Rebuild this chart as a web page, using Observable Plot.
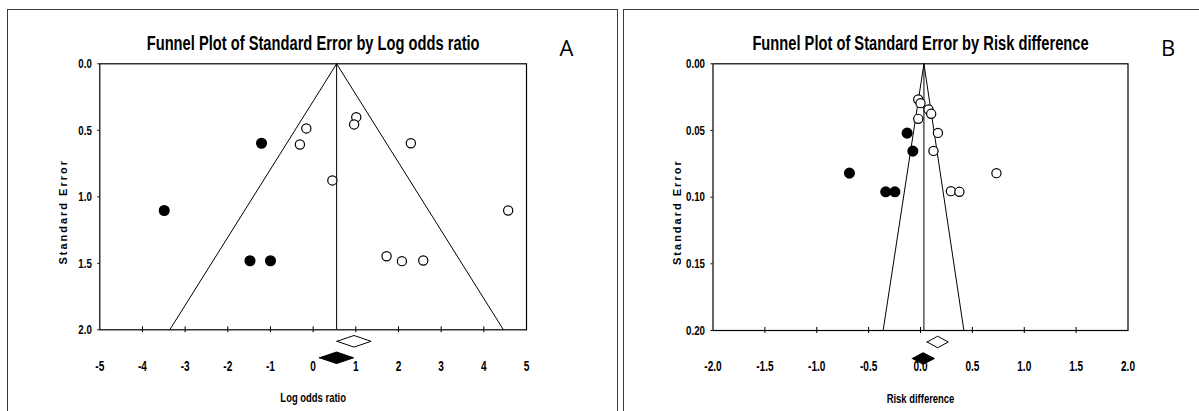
<!DOCTYPE html>
<html><head><meta charset="utf-8">
<script src="https://cdn.jsdelivr.net/npm/d3@7"></script>
<script src="https://cdn.jsdelivr.net/npm/@observablehq/plot@0.6"></script>
<style>
html,body{margin:0;padding:0;background:#fff;}
#wrap{position:relative;width:1199px;height:411px;overflow:hidden;background:#fff;}
.panel{position:absolute;top:0;}
.border{position:absolute;box-sizing:border-box;border:1.5px solid #3a3a3a;}
</style></head><body><div id="wrap">
<div class="border" style="left:6.5px;top:8.5px;width:611px;height:600px;"></div>
<div class="border" style="left:623px;top:8.5px;width:700px;height:600px;"></div>
</div>
<script>
// ---------- Panel A : Log odds ratio ----------
const titleA = "Funnel Plot of Standard Error by Log odds ratio";
const xLabelA = "Log odds ratio";
const tagA = "A";
const xTicksA = [-5, -4, -3, -2, -1, 0, 1, 2, 3, 4, 5];
const yTicksA = [0, 0.5, 1.0, 1.5, 2.0];
// observed studies (open circles)
const obsEffectA = [-0.16, -0.31, 1.01, 0.96, 2.29, 0.45, 4.57, 1.72, 2.08, 2.58];
const obsSEA     = [0.486, 0.607, 0.401, 0.456, 0.597, 0.877, 1.103, 1.447, 1.484, 1.479];
// imputed studies (filled circles)
const impEffectA = [-1.21, -3.49, -1.48, -1.00];
const impSEA     = [0.597, 1.103, 1.481, 1.481];
// funnel
const funnelCenterA = 0.55, funnelLeftA = -3.36, funnelRightA = 4.46, maxSEA = 2.0;
// summary diamonds: [observed (open), adjusted (filled)]
const diamondEstA = [0.97, 0.56];
const diamondLoA  = [0.57, 0.16];
const diamondHiA  = [1.37, 0.96];

// ---------- Panel B : Risk difference ----------
const titleB = "Funnel Plot of Standard Error by Risk difference";
const xLabelB = "Risk difference";
const tagB = "B";
const xTicksB = [-2.0, -1.5, -1.0, -0.5, 0.0, 0.5, 1.0, 1.5, 2.0];
const yTicksB = [0, 0.05, 0.10, 0.15, 0.20];
const obsEffectB = [-0.022, 0.0, 0.077, 0.103, -0.022, 0.168, 0.125, 0.732, 0.293, 0.375];
const obsSEB     = [0.0268, 0.0295, 0.0343, 0.0375, 0.0413, 0.0518, 0.0653, 0.082, 0.0955, 0.096];
const impEffectB = [-0.129, -0.074, -0.685, -0.335, -0.247];
const impSEB     = [0.052, 0.0655, 0.082, 0.096, 0.096];
const funnelCenterB = 0.033, funnelLeftB = -0.36, funnelRightB = 0.418, maxSEB = 0.20;
const diamondEstB = [0.17, 0.03];
const diamondLoB  = [0.069, -0.074];
const diamondHiB  = [0.272, 0.139];

const yLabel = "Standard Error";
const sans = '"Liberation Sans", Arial, sans-serif';

function panel(o) {
  const frameH = o.height - o.mt - o.mb;
  const perPx = o.yMax / frameH;
  const rowPx = [12, 28.5], halfPx = 5.8;
  const diamonds = o.dEst.map((e, i) => {
    const r = o.yMax + rowPx[i] * perPx, h = halfPx * perPx;
    return [
      {x: o.dLo[i], y1: r, y2: r},
      {x: e, y1: r - h, y2: r + h},
      {x: o.dHi[i], y1: r, y2: r}
    ];
  });
  const obs = o.obsX.map((x, i) => ({x, y: o.obsY[i]}));
  const imp = o.impX.map((x, i) => ({x, y: o.impY[i]}));
  const funnel = [
    {x: o.fLeft, y: o.yMax},
    {x: o.fCenter, y: 0},
    {x: o.fRight, y: o.yMax}
  ];
  const inner = o.xTicks.slice(1, -1);
  const svg = Plot.plot({
    width: o.width, height: o.height,
    marginLeft: o.ml, marginRight: o.mr, marginTop: o.mt, marginBottom: o.mb,
    style: {fontFamily: sans, fontSize: "14px", fontWeight: "bold", color: "#000", background: "transparent", overflow: "visible"},
    x: {domain: [o.xTicks[0], o.xTicks[o.xTicks.length - 1]]},
    y: {domain: [0, o.yMax], reverse: true},
    marks: [
      Plot.axisY({ticks: o.yTicks, tickFormat: o.yFmt, tickSize: 2, tickPadding: 6, label: null, fontSize: 13.5}),
      Plot.axisX({ticks: o.xTicks, tickFormat: o.xFmt, tickSize: 0, tickPadding: 31, label: null, fontSize: 14}),
      Plot.ruleX(inner, {x: d => d, y1: () => o.yMax, y2: () => o.yMax, insetTop: -3, insetBottom: -3, stroke: "#000"}),
      Plot.line(funnel, {x: "x", y: "y", stroke: "#000", strokeWidth: 1}),
      Plot.ruleX([o.fCenter], {x: d => d, y1: () => 0, y2: () => o.yMax, stroke: "#000"}),
      Plot.frame({stroke: "#000", strokeWidth: 1.2}),
      Plot.areaY(diamonds[0], {x: "x", y1: "y1", y2: "y2", fill: "white", stroke: "#000", strokeWidth: 1}),
      Plot.areaY(diamonds[1], {x: "x", y1: "y1", y2: "y2", fill: "#000", stroke: "#000", strokeWidth: 1}),
      Plot.dot(obs, {x: "x", y: "y", r: 4.6, fill: "white", stroke: "#000", strokeWidth: 1.2}),
      Plot.dot(imp, {x: "x", y: "y", r: 4.8, fill: "#000", stroke: "#000"}),
      Plot.text([o.title], {text: d => d, frameAnchor: "top", dy: -21, lineAnchor: "middle", fontSize: 21}),
      Plot.text([o.tag], {text: d => d, frameAnchor: "top-right", dx: 40, dy: -15, textAnchor: "middle", lineAnchor: "middle", fontWeight: "normal", fontFamily: '"Open Sans", sans-serif', fontSize: 22}),
      Plot.text([o.xLabel], {text: d => d, frameAnchor: "bottom", dy: 68, lineAnchor: "middle", fontSize: 13.5}),
      Plot.text([yLabel], {text: d => d, frameAnchor: "left", dx: -36, dy: 15, rotate: -90, textAnchor: "middle", lineAnchor: "middle", fontFamily: sans, fontSize: 11})
    ]
  });
  return svg;
}

// the reference uses a narrow bold face: squeeze glyphs horizontally about their anchor
function condenseText(svg, titles, xLabels) {
  svg.querySelectorAll("text").forEach(t => {
    const s = t.textContent;
    if (s === yLabel) { t.style.letterSpacing = "2px"; return; }
    if (s === tagA || s === tagB) return;
    const f = titles.includes(s) ? 0.7 : xLabels.includes(s) ? 0.7 : 0.72;
    const tr = t.getAttribute("transform") || "";
    t.setAttribute("transform", `${tr} scale(${f},1)`);
  });
}

const wrap = document.getElementById("wrap");
const a = panel({
  width: 612, height: 411, ml: 99.3, mr: 86, mt: 63.3, mb: 81.7,
  xTicks: xTicksA, yTicks: yTicksA, xFmt: d => String(d), yFmt: d => d.toFixed(1),
  obsX: obsEffectA, obsY: obsSEA, impX: impEffectA, impY: impSEA,
  fCenter: funnelCenterA, fLeft: funnelLeftA, fRight: funnelRightA, yMax: maxSEA,
  dEst: diamondEstA, dLo: diamondLoA, dHi: diamondHiA,
  title: titleA, xLabel: xLabelA, tag: tagA
});
const b = panel({
  width: 587, height: 411, ml: 100.5, mr: 71.5, mt: 63.3, mb: 81,
  xTicks: xTicksB, yTicks: yTicksB, xFmt: d => d.toFixed(1), yFmt: d => d.toFixed(2),
  obsX: obsEffectB, obsY: obsSEB, impX: impEffectB, impY: impSEB,
  fCenter: funnelCenterB, fLeft: funnelLeftB, fRight: funnelRightB, yMax: maxSEB,
  dEst: diamondEstB, dLo: diamondLoB, dHi: diamondHiB,
  title: titleB, xLabel: xLabelB, tag: tagB
});
const da = document.createElement("div"); da.className = "panel"; da.style.left = "0px"; da.appendChild(a);
const db = document.createElement("div"); db.className = "panel"; db.style.left = "612px"; db.appendChild(b);
wrap.appendChild(da); wrap.appendChild(db);
condenseText(a, [titleA, titleB], [xLabelA, xLabelB]);
condenseText(b, [titleA, titleB], [xLabelA, xLabelB]);
</script>
</body></html>
